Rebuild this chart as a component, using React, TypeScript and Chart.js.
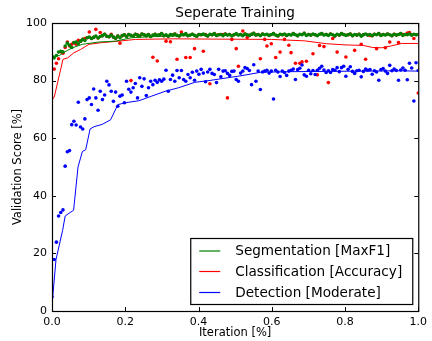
import React, { useEffect, useRef } from 'react';
import { Chart, registerables } from 'chart.js';

Chart.register(...registerables);

const FONT = "'DejaVu Sans', sans-serif";

const titleText = 'Seperate Training';
const xLabel = 'Iteration [%]';
const yLabel = 'Validation Score [%]';
const seriesLabels = ['Segmentation [MaxF1]', 'Classification [Accuracy]', 'Detection [Moderate]'];
const seriesColors = ['#008000', '#ff0000', '#0000ff'];

// Scatter values (one per evaluation step, evenly spaced over iteration fraction 0..1)
const segPoints = [
  88.5, 87.9, 88.7, 89.9, 90.2, 90.0, 92.0, 93.0, 92.3, 91.5,
  93.2, 93.4, 92.8, 93.7, 94.3, 93.9, 94.9, 95.1, 94.6, 95.0,
  95.5, 94.8, 95.3, 95.6, 96.1, 95.4, 95.2, 95.8, 95.1, 94.7,
  95.5, 94.9, 95.6, 95.9, 95.3, 96.0, 95.7, 95.4, 96.1, 95.8,
  95.5, 96.2, 95.9, 95.6, 96.0, 95.3, 95.8, 96.1, 95.7, 95.9,
  96.3, 95.6, 95.9, 95.4, 96.0, 95.8, 96.2, 95.7, 95.5, 96.0,
  95.9, 96.3, 95.6, 95.8, 96.1, 95.7, 95.4, 96.0, 95.9, 96.2,
  95.8, 95.5, 96.1, 95.9, 96.3, 95.7, 95.9, 96.0, 95.6, 96.2,
  95.8, 96.0, 95.5, 95.9, 96.3, 95.8, 96.0, 95.6, 96.2, 95.9,
  95.7, 96.1, 96.4, 95.8, 96.0, 95.6, 96.2, 95.9, 96.1, 95.7,
  96.0, 96.3, 95.8, 95.5, 96.1, 95.9, 96.2, 95.7, 96.0, 95.8,
  96.3, 95.9, 95.6, 96.1, 95.9, 96.4, 95.7, 96.0, 95.8, 96.2,
  95.9, 95.6, 96.1, 96.3, 95.8, 96.0, 95.7, 96.2, 95.9, 95.5,
  96.1, 95.8, 96.3, 96.0, 95.7, 95.9, 96.2, 95.6, 96.0, 95.8,
  96.1, 95.4, 95.9, 96.2, 95.8, 96.0, 95.6, 96.1, 95.9, 96.3,
  95.7, 96.0, 95.8, 96.2, 95.9, 95.6, 96.1, 95.8, 96.0, 96.3,
  95.7, 96.0, 95.9, 96.2, 95.8, 96.1, 95.9, 96.0,
];

const clsPoints = [
  74.0, 84.0, 86.0, 87.6, 90.0, 89.5, 91.5, 93.4, 92.0, 92.6,
  93.2, 92.6, 94.0, 93.7, 94.3, 94.6, 94.9, 96.9, 94.6, 95.0,
  97.8, 94.8, 96.7, 95.6, 96.1, 95.4, 95.2, 96.1, 95.1, 94.7,
  95.5, 93.0, 95.6, 95.9, 95.3, 96.0, 80.0, 95.4, 96.1, 95.8,
  95.5, 96.2, 95.9, 95.6, 96.0, 95.3, 88.1, 96.1, 86.8, 95.9,
  96.3, 95.6, 93.7, 95.4, 93.5, 95.8, 96.2, 87.4, 95.5, 96.9,
  95.9, 88.0, 95.6, 88.0, 96.1, 91.1, 95.4, 96.0, 95.9, 90.2,
  96.0, 95.5, 78.9, 95.9, 96.3, 95.7, 95.9, 96.0, 96.0, 96.2,
  74.0, 96.0, 94.3, 95.9, 91.1, 85.0, 96.0, 97.2, 96.2, 95.0,
  95.7, 96.1, 96.4, 95.8, 96.0, 87.6, 96.2, 94.3, 92.0, 95.7,
  92.8, 96.3, 88.0, 95.5, 89.9, 95.9, 94.3, 95.7, 92.3, 89.7,
  96.3, 86.0, 95.6, 86.0, 86.5, 96.4, 86.7, 96.0, 95.8, 89.3,
  95.9, 82.0, 92.2, 96.3, 91.8, 96.0, 79.3, 96.2, 94.6, 95.5,
  89.9, 95.8, 96.3, 96.0, 88.2, 95.9, 96.2, 95.6, 90.5, 95.8,
  96.1, 92.6, 95.9, 87.4, 95.8, 95.7, 95.6, 96.1, 91.1, 96.3,
  95.7, 96.0, 91.4, 96.2, 93.4, 95.6, 96.1, 95.8, 93.2, 96.3,
  96.0, 96.0, 96.5, 96.7, 95.8, 94.6, 95.9, 75.7,
];

const detPoints = [
  4.9, 17.9, 23.9, 33.0, 34.2, 35.1, 50.3, 55.3, 55.7, 64.7,
  65.9, 64.6, 72.5, 63.9, 63.2, 66.7, 73.4, 74.0, 71.7, 77.1,
  74.0, 69.7, 76.3, 73.4, 75.0, 79.8, 78.5, 76.3, 72.8, 76.0,
  71.1, 74.6, 75.0, 72.3, 79.8, 77.0, 76.0, 77.5, 79.0, 74.0,
  81.0, 78.0, 80.6, 74.8, 77.5, 79.8, 78.6, 80.1, 79.4, 80.3,
  79.8, 80.5, 83.6, 76.3, 80.4, 81.9, 79.8, 83.5, 81.0, 83.5,
  80.4, 79.8, 82.1, 81.0, 82.9, 80.1, 83.3, 82.2, 83.9, 82.6,
  79.6, 83.0, 83.9, 82.5, 82.1, 79.3, 83.9, 81.3, 83.3, 83.4,
  82.5, 81.8, 83.2, 83.3, 80.4, 79.8, 82.6, 83.3, 84.5, 84.2,
  83.5, 78.6, 85.5, 79.8, 83.3, 76.9, 83.0, 83.3, 83.6, 82.6,
  83.3, 73.6, 83.6, 83.0, 81.4, 83.3, 82.8, 81.8, 83.3, 83.6,
  84.0, 80.4, 83.8, 84.3, 85.4, 82.0, 81.5, 83.6, 82.4, 83.5,
  82.1, 83.6, 84.3, 85.0, 83.7, 82.8, 83.4, 82.8, 83.8, 83.6,
  84.5, 83.1, 84.5, 85.0, 81.5, 83.9, 84.8, 83.2, 82.5, 83.4,
  83.6, 81.3, 83.2, 84.0, 83.6, 83.8, 82.2, 83.4, 83.0, 80.1,
  83.8, 84.2, 83.3, 82.5, 85.3, 83.4, 84.0, 83.5, 80.1, 83.7,
  84.4, 83.6, 80.3, 86.0, 84.4, 72.9, 86.2, 83.5,
];

// Smoothed curves (iteration fraction, score)
const segLineX = [0, 0.02, 0.038, 0.056, 0.083, 0.128, 0.173, 0.218, 0.264, 0.331, 0.4, 0.5, 0.6, 0.7, 0.8, 0.9, 1.0];
const segLineY = [88.3, 88.7, 90.2, 91.4, 92.6, 93.4, 93.7, 94.9, 95.2, 95.5, 95.7, 95.8, 95.9, 95.9, 96.0, 96.0, 96.0];

const clsLineX = [0.006, 0.03, 0.043, 0.06, 0.078, 0.101, 0.137, 0.182, 0.228, 0.33, 0.45, 0.6, 0.69, 0.75, 0.8, 0.85, 0.875, 0.9, 0.925, 0.955, 1.0];
const clsLineY = [74.2, 87.4, 87.9, 89.7, 90.8, 92.6, 93.2, 93.7, 94.3, 94.5, 94.4, 94.3, 93.8, 92.8, 92.4, 92.2, 91.5, 91.4, 92.0, 92.9, 92.9];

const detLineX = [0.002, 0.011, 0.029, 0.036, 0.059, 0.071, 0.083, 0.092, 0.104, 0.115, 0.137, 0.16, 0.18, 0.21, 0.237, 0.272, 0.309, 0.345, 0.39, 0.434, 0.48, 0.507, 0.535, 0.57, 0.65, 0.75, 0.85, 0.95, 1.0];
const detLineY = [4.9, 17.9, 28.0, 33.0, 35.0, 50.0, 55.4, 56.0, 63.2, 64.0, 64.8, 66.4, 71.7, 72.5, 73.0, 74.6, 76.3, 77.5, 79.4, 80.1, 81.0, 81.5, 82.1, 82.9, 83.1, 83.2, 83.3, 83.4, 83.3];

const xTickStep = 0.2;
const yTickStep = 20;

function pointsOf(values: number[]) {
  const n = values.length;
  return values.map((v, i) => ({ x: i / (n - 1), y: v }));
}
function lineOf(xs: number[], ys: number[]) {
  return xs.map((x, i) => ({ x, y: ys[i] }));
}

const mplPlugin = {
  id: 'mplDecor',
  afterDatasetsDraw(chart: any) {
    const { ctx, chartArea: a, scales } = chart;
    const xs = scales.x;
    const ys = scales.y;
    ctx.save();
    ctx.strokeStyle = '#000';
    ctx.lineWidth = 1;
    ctx.beginPath();
    xs.ticks.forEach((t: any) => {
      const p = Math.round(xs.getPixelForValue(t.value)) + 0.5;
      ctx.moveTo(p, a.bottom);
      ctx.lineTo(p, a.bottom - 4);
      ctx.moveTo(p, a.top);
      ctx.lineTo(p, a.top + 4);
    });
    ys.ticks.forEach((t: any) => {
      const p = Math.round(ys.getPixelForValue(t.value)) + 0.5;
      ctx.moveTo(a.left, p);
      ctx.lineTo(a.left + 4, p);
      ctx.moveTo(a.right, p);
      ctx.lineTo(a.right - 4, p);
    });
    ctx.stroke();
    ctx.lineWidth = 1.2;
    ctx.strokeRect(a.left + 0.5, a.top + 0.5, a.right - a.left, a.bottom - a.top);
    ctx.restore();
  },
  afterDraw(chart: any) {
    const { ctx, chartArea: a } = chart;
    ctx.save();
    ctx.fillStyle = '#000';
    ctx.textAlign = 'center';
    ctx.textBaseline = 'middle';
    // Title
    ctx.font = `13.6px ${FONT}`;
    ctx.fillText(titleText, (a.left + a.right) / 2, 13);
    // Axis labels
    ctx.font = `11.5px ${FONT}`;
    ctx.fillText(xLabel, (a.left + a.right) / 2, 333);
    ctx.save();
    ctx.translate(18, (a.top + a.bottom) / 2);
    ctx.rotate(-Math.PI / 2);
    ctx.fillText(yLabel, 0, 0);
    ctx.restore();

    // Legend
    const bw = 222;
    const bh = 66;
    const bx = a.right - 6 - bw;
    const by = a.bottom - 7 - bh;
    ctx.fillStyle = '#fff';
    ctx.fillRect(bx, by, bw, bh);
    ctx.strokeStyle = '#000';
    ctx.lineWidth = 1.2;
    ctx.strokeRect(bx + 0.5, by + 0.5, bw, bh);
    const rows = [12.5, 33, 54];
    ctx.font = `13.6px ${FONT}`;
    ctx.textAlign = 'left';
    seriesLabels.forEach((lab, i) => {
      const cy = by + rows[i];
      ctx.strokeStyle = seriesColors[i];
      ctx.lineWidth = 1.2;
      ctx.beginPath();
      ctx.moveTo(bx + 9, cy + 0.5);
      ctx.lineTo(bx + 30, cy + 0.5);
      ctx.stroke();
      ctx.fillStyle = '#000';
      ctx.fillText(lab, bx + 45, cy + 1);
    });
    ctx.restore();
  },
};

export default function App() {
  const ref = useRef<HTMLCanvasElement | null>(null);
  useEffect(() => {
    if (!ref.current) return;
    const dot = (data: any[], color: string) => ({
      data,
      showLine: false,
      pointRadius: 1.8,
      pointBorderWidth: 0,
      pointBackgroundColor: color,
      borderColor: color,
      backgroundColor: color,
    });
    const line = (data: any[], color: string) => ({
      data,
      showLine: true,
      pointRadius: 0,
      borderWidth: 1,
      borderColor: color,
      backgroundColor: color,
      fill: false,
      tension: 0,
    });
    const chart = new Chart(ref.current, {
      type: 'scatter',
      data: {
        datasets: [
          line(lineOf(detLineX, detLineY), seriesColors[2]),
          dot(pointsOf(detPoints), seriesColors[2]),
          dot(pointsOf(segPoints), seriesColors[0]),
          line(lineOf(segLineX, segLineY), seriesColors[0]),
          line(lineOf(clsLineX, clsLineY), seriesColors[1]),
          dot(pointsOf(clsPoints), seriesColors[1]),
        ] as any,
      },
      options: {
        animation: false,
        responsive: false,
        maintainAspectRatio: false,
        layout: { padding: { left: 0, right: 10, top: 23, bottom: 0 } },
        plugins: {
          legend: { display: false },
          title: { display: false },
          tooltip: { enabled: false },
        },
        scales: {
          x: {
            type: 'linear',
            min: 0,
            max: 1,
            grid: { display: false, drawTicks: false },
            border: { display: false },
            ticks: {
              stepSize: xTickStep,
              padding: 5,
              color: '#000',
              font: { family: FONT, size: 11 },
              maxRotation: 0,
              callback: (v: any) => Number(v).toFixed(1),
            },
            afterFit: (s: any) => {
              s.height = 30;
            },
          },
          y: {
            type: 'linear',
            min: 0,
            max: 100,
            grid: { display: false, drawTicks: false },
            border: { display: false },
            ticks: {
              stepSize: yTickStep,
              padding: 5,
              color: '#000',
              font: { family: FONT, size: 11 },
            },
            afterFit: (s: any) => {
              s.width = 52;
            },
          },
        },
      } as any,
      plugins: [mplPlugin],
    });
    return () => chart.destroy();
  }, []);
  return (
    <div style={{ position: 'fixed', left: 0, top: 0, width: 432, height: 341, background: '#fff' }}>
      <canvas ref={ref} width={432} height={341} style={{ display: 'block', width: 432, height: 341 }} />
    </div>
  );
}
